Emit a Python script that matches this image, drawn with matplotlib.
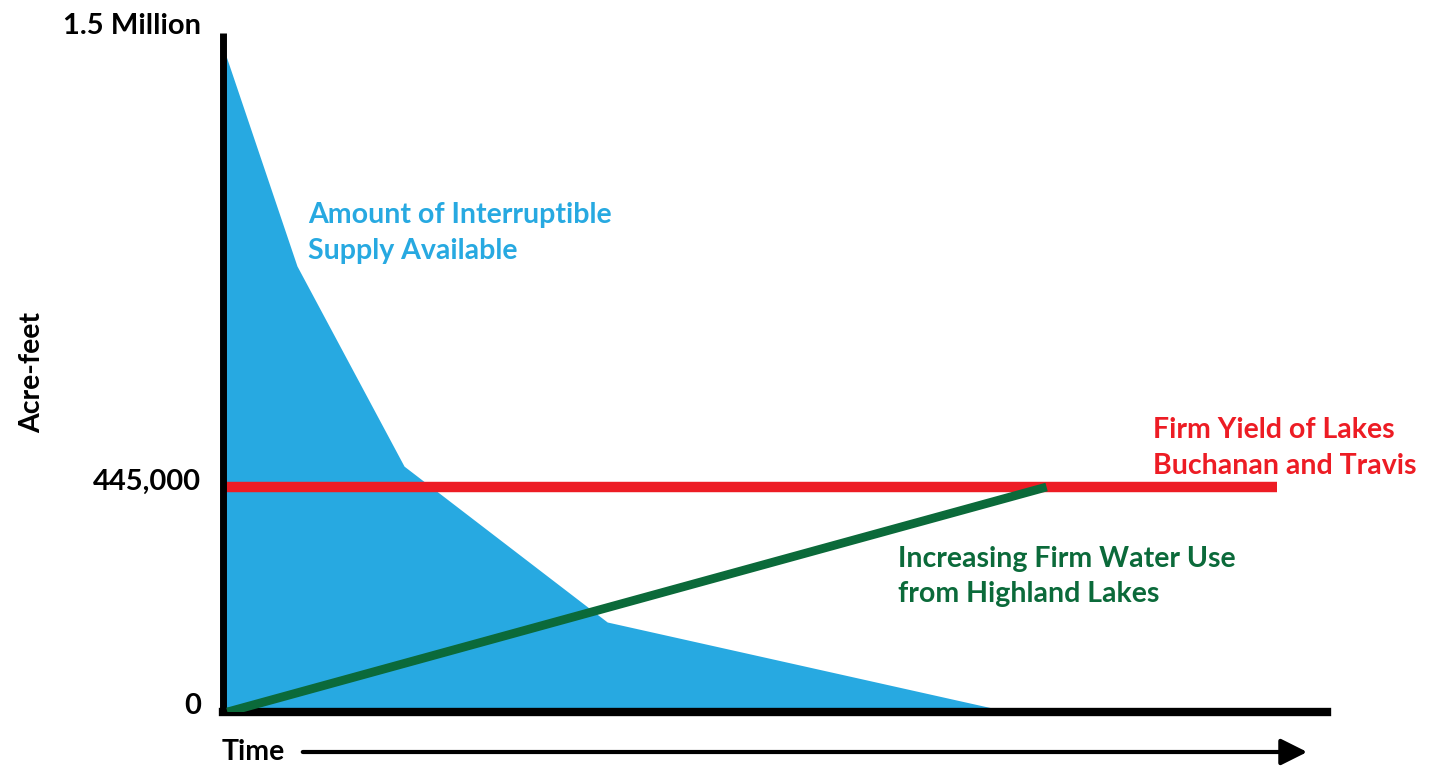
import numpy as np
import matplotlib
matplotlib.use("Agg")
import matplotlib.pyplot as plt
from matplotlib.patches import FancyArrowPatch
from matplotlib.transforms import ScaledTranslation

plt.rcParams['font.family'] = ['Lato', 'DejaVu Sans']
plt.rcParams['font.weight'] = 'bold'

# schematic data (time is arbitrary units 0..100, y in acre-feet)
supply_t = [0, 6.7, 16.4, 34.8, 71.3]
supply_af = [1500000, 975000, 495000, 178000, 0]
firm_yield = 445000
firm_yield_t = [0, 95.5]
use_t = [0.4, 74.6]
use_af = [0, 445000]
tick_vals = [0, 445000, 1500000]
tick_labels = ['0', '445,000', '1.5 Million']

BLUE = '#27a9e1'
RED = '#ed1c24'
GREEN = '#0b6a3a'


# axis is drawn piecewise: the lower part (0..445k) is stretched
def fwd(y):
    y = np.asarray(y, dtype=float)
    return np.where(y <= 445000, y / 445000 * 225, 225 + (y - 445000) / 1055000 * 440)


def inv(p):
    p = np.asarray(p, dtype=float)
    return np.where(p <= 225, p / 225 * 445000, 445000 + (p - 225) / 440 * 1055000)


fig = plt.figure(figsize=(14.32, 7.67), dpi=100)
ax = fig.add_axes([223 / 1432, 55 / 767, 1104 / 1432, 679 / 767])
ax.set_yscale('function', functions=(fwd, inv))
ax.set_xlim(0, 100)
ax.set_ylim(0, float(inv(679)))

ax.fill_between(supply_t, supply_af, 0, color=BLUE, lw=0, zorder=1)
ax.plot(firm_yield_t, [firm_yield, firm_yield], color=RED, lw=7.5, solid_capstyle='butt', zorder=2)
ax.plot(use_t, use_af, color=GREEN, lw=6.3, solid_capstyle='butt', zorder=3)

for s in ['top', 'right']:
    ax.spines[s].set_visible(False)
ax.spines['left'].set_linewidth(5)
ax.spines['bottom'].set_linewidth(6)
ax.spines['left'].set_capstyle('butt')
ax.set_xticks([])
ax.set_yticks(tick_vals)
ax.set_yticklabels(tick_labels)
ax.tick_params(axis='y', length=0, pad=16, labelsize=21)
for lbl, dy in zip(ax.get_yticklabels(), [9, 8, 23]):
    lbl.set_fontweight('bold')
    lbl.set_transform(lbl.get_transform() + ScaledTranslation(0, dy / 100, fig.dpi_scale_trans))

fs = 20.5
ax.text(0.077, 0.751, 'Amount of Interruptible\nSupply Available', color=BLUE, fontsize=fs,
        fontweight='bold', transform=ax.transAxes, va='top', ha='left', linespacing=1.45)
ax.text(0.842, 0.434, 'Firm Yield of Lakes\nBuchanan and Travis', color=RED, fontsize=fs,
        fontweight='bold', transform=ax.transAxes, va='top', ha='left', linespacing=1.45)
ax.text(0.611, 0.245, 'Increasing Firm Water Use\nfrom Highland Lakes', color=GREEN, fontsize=fs,
        fontweight='bold', transform=ax.transAxes, va='top', ha='left', linespacing=1.45)

fig.text(32 / 1432, 1 - 372 / 767, 'Acre-feet', rotation=90, fontsize=fs, fontweight='bold',
         ha='center', va='center')
fig.text(222 / 1432, 1 - 752 / 767, 'Time', fontsize=fs, fontweight='bold', ha='left', va='center')
fig.patches.append(FancyArrowPatch(
    (300 / 1432, 1 - 752 / 767), (1310 / 1432, 1 - 752 / 767), transform=fig.transFigure,
    arrowstyle='-|>,head_length=0.8,head_width=0.4', mutation_scale=20, lw=3, color='black'))

fig.savefig('out.png', dpi=100)
